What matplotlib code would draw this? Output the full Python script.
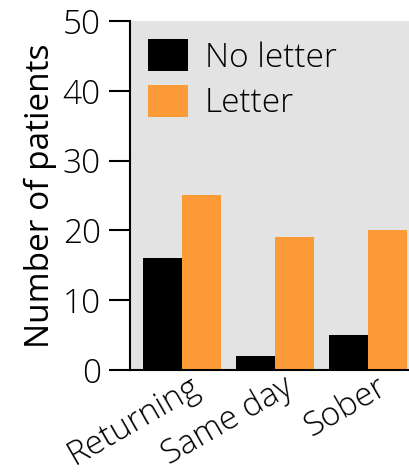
import matplotlib
matplotlib.use('Agg')
import numpy as np
import matplotlib.pyplot as plt
import matplotlib.transforms as mtransforms

# datos
categorias = ['Returning', 'Same day', 'Sober']
sin_carta = [16, 2, 5]
con_carta = [25, 19, 20]
series = ['No letter', 'Letter']

plt.rcParams['font.family'] = ['Open Sans', 'DejaVu Sans']
plt.rcParams['font.weight'] = 'light'

fig = plt.figure(figsize=(4.09, 4.73), dpi=100)
ax = fig.add_axes([130/409, 103/473, 1 - 130/409, (370-21)/473])

x = np.arange(len(categorias))
ancho = 0.42
ax.bar(x - ancho/2, sin_carta, ancho, color='black', label=series[0])
ax.bar(x + ancho/2, con_carta, ancho, color='#fd9a38', label=series[1])

ax.set_facecolor('#e3e3e3')
ax.set_xlim(-0.56, 2.44)
ax.set_ylim(0, 50)
ax.set_yticks([0, 10, 20, 30, 40, 50])
ax.set_xticks(x)
ax.set_xticklabels(categorias, rotation=30, ha='right', rotation_mode='anchor')
ax.tick_params(axis='y', length=15, width=1.5, labelsize=24, pad=6)
ax.tick_params(axis='x', length=0, labelsize=24, pad=0)
off = mtransforms.ScaledTranslation(7/100, 0, fig.dpi_scale_trans)
for t in ax.get_xticklabels():
    t.set_transform(t.get_transform() + off)

for s in ['top', 'right']:
    ax.spines[s].set_visible(False)
ax.spines['left'].set_linewidth(1.5)
ax.spines['bottom'].set_linewidth(1.5)

ax.set_ylabel('Number of patients', fontsize=24, labelpad=4)

ax.legend(loc='upper left', frameon=False, fontsize=24, handlelength=1.2,
          handleheight=1.1, handletextpad=0.5, labelspacing=0.3,
          borderaxespad=0.15, bbox_to_anchor=(0.0, 1.0))

plt.savefig('out.png', dpi=100)
